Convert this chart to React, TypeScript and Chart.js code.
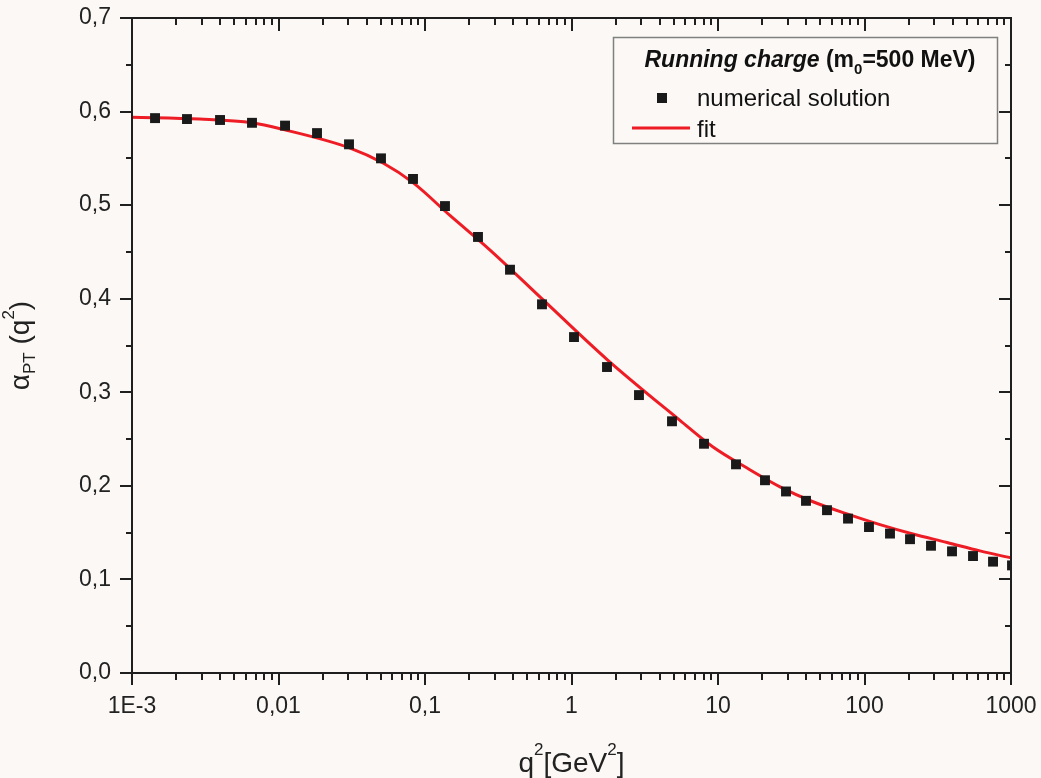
import React, { useEffect, useRef } from 'react';
import { Chart, registerables } from 'chart.js';

Chart.register(...registerables);

// numerical solution (q^2 in GeV^2, alpha_PT)
const qNum = [0.001436, 0.002373, 0.003989, 0.006593, 0.01108, 0.01832, 0.03029, 0.05007, 0.08282, 0.1369, 0.23, 0.3804, 0.6289, 1.04, 1.747, 2.888, 4.853, 8.025, 13.27, 20.93, 29.12, 39.87, 55.46, 77.18, 107.3, 149.3, 204.5, 284.4, 395.7, 550.4, 753.9, 1016];
const alphaNum = [0.593, 0.592, 0.591, 0.588, 0.585, 0.577, 0.565, 0.55, 0.528, 0.499, 0.466, 0.431, 0.394, 0.359, 0.327, 0.297, 0.269, 0.245, 0.223, 0.206, 0.194, 0.184, 0.174, 0.165, 0.156, 0.149, 0.143, 0.136, 0.13, 0.125, 0.119, 0.115];

// fit curve
const qFit = [0.001, 0.0029, 0.0066, 0.0107, 0.0308, 0.0517, 0.0828, 0.148, 0.278, 0.638, 1.75, 5.5, 9.25, 15.8, 26.5, 44.5, 76, 127.6, 214, 366, 614, 1000];
const alphaFit = [0.594, 0.592, 0.588, 0.581, 0.561, 0.545, 0.524, 0.489, 0.452, 0.399, 0.335, 0.27, 0.2415, 0.219, 0.199, 0.183, 0.17, 0.1585, 0.1485, 0.1395, 0.1305, 0.123];

// axes
const xMajor = [0.001, 0.01, 0.1, 1, 10, 100, 1000];
const xTickLabels = ['1E-3', '0,01', '0,1', '1', '10', '100', '1000'];
const yMajor = [0, 0.1, 0.2, 0.3, 0.4, 0.5, 0.6, 0.7];
const yTickLabels = ['0,0', '0,1', '0,2', '0,3', '0,4', '0,5', '0,6', '0,7'];
const yMinor = [0.05, 0.15, 0.25, 0.35, 0.45, 0.55, 0.65];
const minorMultipliers = [2, 3, 4, 5, 6, 7, 8, 9];

const FONT = '"Liberation Sans", Arial, Helvetica, sans-serif';
const BG = '#FBF8F5';
const AXIS = '#1f1f1f';
const RED = '#EE1D25';

type Run = { text: string; font: string; dy: number };

function runsWidth(ctx: CanvasRenderingContext2D, runs: Run[]) {
  let w = 0;
  for (const r of runs) {
    ctx.font = r.font;
    w += ctx.measureText(r.text).width;
  }
  return w;
}

function drawRuns(ctx: CanvasRenderingContext2D, runs: Run[], x: number, y: number) {
  let cx = x;
  for (const r of runs) {
    ctx.font = r.font;
    ctx.fillText(r.text, cx, y + r.dy);
    cx += ctx.measureText(r.text).width;
  }
}

const decorPlugin = {
  id: 'decor',
  beforeDraw(chart: any) {
    const ctx = chart.ctx;
    ctx.save();
    ctx.fillStyle = BG;
    ctx.fillRect(0, 0, chart.width, chart.height);
    ctx.restore();
  },
  afterDraw(chart: any) {
    const ctx: CanvasRenderingContext2D = chart.ctx;
    const { left, right, top, bottom } = chart.chartArea;
    const xs = chart.scales.x;
    const ys = chart.scales.y;
    ctx.save();
    ctx.strokeStyle = AXIS;
    ctx.lineWidth = 2;
    ctx.strokeRect(left, top, right - left, bottom - top);
    ctx.beginPath();
    const xMinor: number[] = [];
    for (let i = 0; i < xMajor.length - 1; i++) {
      for (const m of minorMultipliers) xMinor.push(xMajor[i] * m);
    }
    for (const v of xMajor) {
      const px = Math.round(xs.getPixelForValue(v));
      ctx.moveTo(px, bottom); ctx.lineTo(px, bottom + 12);
      ctx.moveTo(px, top); ctx.lineTo(px, top + 13);
    }
    for (const v of xMinor) {
      const px = Math.round(xs.getPixelForValue(v));
      ctx.moveTo(px, bottom); ctx.lineTo(px, bottom + 7);
      ctx.moveTo(px, top); ctx.lineTo(px, top + 7);
    }
    for (const v of yMajor) {
      const py = Math.round(ys.getPixelForValue(v));
      ctx.moveTo(left - 12, py); ctx.lineTo(left, py);
      ctx.moveTo(right - 12, py); ctx.lineTo(right, py);
    }
    for (const v of yMinor) {
      const py = Math.round(ys.getPixelForValue(v));
      ctx.moveTo(left - 6, py); ctx.lineTo(left, py);
      ctx.moveTo(right - 6, py); ctx.lineTo(right, py);
    }
    ctx.stroke();

    // legend box
    ctx.strokeStyle = '#808080';
    ctx.lineWidth = 1.5;
    ctx.strokeRect(613.5, 37.5, 384, 106);
    ctx.fillStyle = '#111';
    ctx.textBaseline = 'alphabetic';
    ctx.textAlign = 'left';
    const titleRuns: Run[] = [
      { text: 'Running charge', font: `italic bold 23px ${FONT}`, dy: 0 },
      { text: ' (m', font: `bold 23px ${FONT}`, dy: 0 },
      { text: '0', font: `bold 15px ${FONT}`, dy: 7 },
      { text: '=500 MeV)', font: `bold 23px ${FONT}`, dy: 0 },
    ];
    const tw = runsWidth(ctx, titleRuns);
    drawRuns(ctx, titleRuns, 810 - tw / 2, 67);
    ctx.fillStyle = '#1a1a1a';
    ctx.fillRect(657, 93, 10, 10);
    ctx.font = `24px ${FONT}`;
    ctx.fillStyle = '#111';
    ctx.fillText('numerical solution', 697, 106);
    ctx.strokeStyle = RED;
    ctx.lineWidth = 3;
    ctx.beginPath();
    ctx.moveTo(632, 128); ctx.lineTo(690, 128);
    ctx.stroke();
    ctx.fillText('fit', 697, 137);

    // x title
    ctx.fillStyle = '#222';
    const xRuns: Run[] = [
      { text: 'q', font: `28px ${FONT}`, dy: 0 },
      { text: '2', font: `17px ${FONT}`, dy: -17 },
      { text: '[GeV', font: `28px ${FONT}`, dy: 0 },
      { text: '2', font: `17px ${FONT}`, dy: -17 },
      { text: ']', font: `28px ${FONT}`, dy: 0 },
    ];
    const xw = runsWidth(ctx, xRuns);
    drawRuns(ctx, xRuns, (left + right) / 2 - xw / 2, 772);

    // y title
    const yRuns: Run[] = [
      { text: 'α', font: `28px ${FONT}`, dy: 0 },
      { text: 'PT', font: `17px ${FONT}`, dy: 6 },
      { text: ' (q', font: `28px ${FONT}`, dy: 0 },
      { text: '2', font: `17px ${FONT}`, dy: -15 },
      { text: ')', font: `28px ${FONT}`, dy: 0 },
    ];
    const yw = runsWidth(ctx, yRuns);
    ctx.translate(29, (top + bottom) / 2);
    ctx.rotate(-Math.PI / 2);
    drawRuns(ctx, yRuns, -yw / 2, 0);
    ctx.restore();
  },
};

export default function App() {
  const ref = useRef<HTMLCanvasElement>(null);
  useEffect(() => {
    if (!ref.current) return;
    const chart = new Chart(ref.current, {
      type: 'line',
      data: {
        datasets: [
          {
            label: 'fit',
            data: qFit.map((q, i) => ({ x: q, y: alphaFit[i] })),
            borderColor: RED,
            borderWidth: 3,
            pointRadius: 0,
            fill: false,
            cubicInterpolationMode: 'monotone',
            order: 2,
          },
          {
            label: 'numerical solution',
            data: qNum.map((q, i) => ({ x: q, y: alphaNum[i] })),
            showLine: false,
            pointStyle: 'rect',
            pointRadius: 7,
            backgroundColor: '#1a1a1a',
            borderColor: '#1a1a1a',
            borderWidth: 0,
            order: 1,
          },
        ],
      },
      options: {
        animation: false,
        responsive: false,
        maintainAspectRatio: false,
        layout: { padding: { left: 0, right: 30, top: 18, bottom: 0 } },
        plugins: { legend: { display: false }, tooltip: { enabled: false } },
        scales: {
          x: {
            type: 'logarithmic',
            min: 0.001,
            max: 1000,
            grid: { display: false, drawTicks: false, tickLength: 0 },
            border: { display: false },
            afterBuildTicks: (s: any) => {
              s.ticks = xMajor.map((v) => ({ value: v }));
            },
            afterFit: (s: any) => {
              s.height = 105;
              s.paddingLeft = 0;
              s.paddingRight = 0;
            },
            ticks: {
              autoSkip: false,
              maxRotation: 0,
              padding: 20,
              color: '#222',
              font: { family: FONT, size: 23 },
              callback: (_v: any, i: number) => xTickLabels[i],
            },
          },
          y: {
            type: 'linear',
            min: 0,
            max: 0.7,
            grid: { display: false, drawTicks: false, tickLength: 0 },
            border: { display: false },
            afterBuildTicks: (s: any) => {
              s.ticks = yMajor.map((v) => ({ value: v }));
            },
            afterFit: (s: any) => {
              s.width = 132;
              s.paddingTop = 0;
              s.paddingBottom = 0;
            },
            ticks: {
              autoSkip: false,
              padding: 21,
              color: '#222',
              font: { family: FONT, size: 23 },
              callback: (_v: any, i: number) => yTickLabels[i],
            },
          },
        },
      },
      plugins: [decorPlugin],
    } as any);
    return () => chart.destroy();
  }, []);
  return (
    <div style={{ position: 'fixed', left: 0, top: 0, width: 1041, height: 778 }}>
      <canvas ref={ref} width={1041} height={778} style={{ display: 'block', width: 1041, height: 778 }} />
    </div>
  );
}
